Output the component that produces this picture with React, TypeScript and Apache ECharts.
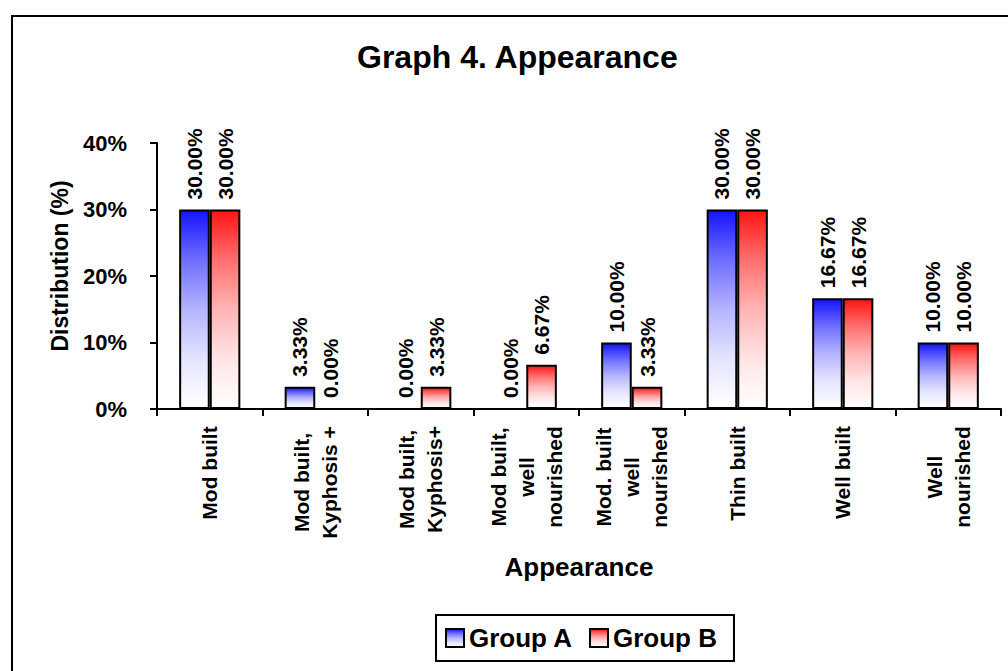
import React, { useEffect, useRef } from "react";
import * as echarts from "echarts";

// Appearance categories (line breaks as printed under the axis)
const categories = [
  "Mod built",
  "Mod built,\nKyphosis +",
  "Mod built,\nKyphosis+",
  "Mod built,\nwell\nnourished",
  "Mod. built\nwell\nnourished",
  "Thin built",
  "Well built",
  "Well\nnourished",
];

// Distribution in percent
const groupA = [30.0, 3.33, 0.0, 0.0, 10.0, 30.0, 16.67, 10.0];
const groupB = [30.0, 0.0, 3.33, 6.67, 3.33, 30.0, 16.67, 10.0];

const seriesNames = ["Group A", "Group B"];
const yTicks = [0, 10, 20, 30, 40];

const FONT = "'Liberation Sans', Arial, Helvetica, sans-serif";
const CAT_FONT_SIZE = 21;

// Gradient that runs from a strong colour at the bar top down to white
const fade = (stops: string[]) =>
  new echarts.graphic.LinearGradient(
    0,
    0,
    0,
    1,
    stops.map((color, i) => ({ offset: i / (stops.length - 1), color }))
  );

const blueStops = ["#1414ff", "#6e6eff", "#b4b4ff", "#e4e4ff", "#ffffff"];
const redStops = ["#ff1414", "#ff6e6e", "#ffb4b4", "#ffe4e4", "#ffffff"];

// Width of the longest line of each category label, so every line can be
// centred inside its label block
function lineWidths(): number[] {
  const ctx = document.createElement("canvas").getContext("2d");
  if (!ctx) return categories.map(() => 110);
  ctx.font = `bold ${CAT_FONT_SIZE}px ${FONT}`;
  return categories.map((c) =>
    Math.ceil(Math.max(...c.split("\n").map((l) => ctx.measureText(l).width)))
  );
}

export default function App() {
  const ref = useRef<HTMLDivElement>(null);

  useEffect(() => {
    if (!ref.current) return;
    const chart = echarts.init(ref.current, undefined, { renderer: "svg" });

    const widths = lineWidths();
    const rich: Record<string, any> = {};
    widths.forEach((w, i) => {
      rich[`c${i}`] = {
        width: w,
        align: "center",
        fontFamily: FONT,
        fontWeight: "bold",
        fontSize: CAT_FONT_SIZE,
        lineHeight: 28,
        color: "#000",
      };
    });

    const valueLabel = {
      show: true,
      position: "top" as const,
      rotate: 90,
      align: "left" as const,
      verticalAlign: "middle" as const,
      distance: 10,
      fontFamily: FONT,
      fontWeight: "bold" as const,
      fontSize: 21,
      color: "#000",
      formatter: (p: any) => `${Number(p.value).toFixed(2)}%`,
    };

    chart.setOption({
      animation: false,
      backgroundColor: "#ffffff",
      textStyle: { fontFamily: FONT },
      title: {
        text: "Graph 4. Appearance",
        left: 357,
        top: 41,
        padding: 0,
        textStyle: { fontFamily: FONT, fontWeight: "bold", fontSize: 32, color: "#000" },
      },
      graphic: [
        {
          type: "rect",
          shape: { x: 12, y: 16, width: 1200, height: 900 },
          style: { fill: "none", stroke: "#000", lineWidth: 2 },
          silent: true,
          z: 100,
        },
      ],
      legend: {
        data: seriesNames,
        left: 436,
        top: 615,
        orient: "horizontal",
        padding: [10, 17, 10, 9],
        itemGap: 16,
        itemWidth: 18,
        itemHeight: 18,
        icon: "rect",
        borderColor: "#000",
        borderWidth: 2,
        backgroundColor: "#fff",
        itemStyle: { borderColor: "#000", borderWidth: 2 },
        textStyle: { fontFamily: FONT, fontWeight: "bold", fontSize: 26, color: "#000" },
      },
      grid: { left: 157, right: 7, top: 143, bottom: 262, containLabel: false },
      xAxis: {
        type: "category",
        data: categories,
        name: "Appearance",
        nameLocation: "middle",
        nameGap: 145,
        nameTextStyle: { fontFamily: FONT, fontWeight: "bold", fontSize: 26, color: "#000" },
        axisLine: { lineStyle: { color: "#000", width: 2 } },
        axisTick: { show: true, length: 7, lineStyle: { color: "#000", width: 2 } },
        axisLabel: {
          interval: 0,
          rotate: 90,
          margin: 17,
          color: "#000",
          fontFamily: FONT,
          fontWeight: "bold",
          fontSize: CAT_FONT_SIZE,
          lineHeight: 29,
          formatter: (v: string, i: number) =>
            v
              .split("\n")
              .map((l) => `{c${i}|${l}}`)
              .join("\n"),
          rich,
        },
      },
      yAxis: {
        type: "value",
        min: 0,
        max: 40,
        interval: 10,
        name: "Distribution (%)",
        nameLocation: "middle",
        nameGap: 86,
        nameRotate: 90,
        nameTextStyle: {
          fontFamily: FONT,
          fontWeight: "bold",
          fontSize: 23,
          color: "#000",
          padding: [0, 0, 0, 20],
        },
        axisLine: { show: true, lineStyle: { color: "#000", width: 2 } },
        axisTick: { show: true, length: 7, lineStyle: { color: "#000", width: 2 } },
        splitLine: { show: false },
        axisLabel: {
          margin: 30,
          color: "#000",
          fontFamily: FONT,
          fontWeight: "bold",
          fontSize: 22,
          formatter: (v: number) => (yTicks.includes(v) ? `${v}%` : ""),
        },
      },
      series: [
        {
          name: seriesNames[0],
          type: "bar",
          data: groupA,
          barGap: "0%",
          barCategoryGap: "42%",
          itemStyle: { color: fade(blueStops), borderColor: "#000", borderWidth: 2 },
          label: valueLabel,
        },
        {
          name: seriesNames[1],
          type: "bar",
          data: groupB,
          barGap: "0%",
          barCategoryGap: "42%",
          itemStyle: { color: fade(redStops), borderColor: "#000", borderWidth: 2 },
          label: valueLabel,
        },
      ],
    });

    return () => chart.dispose();
  }, []);

  return (
    <div
      ref={ref}
      style={{ position: "absolute", left: 0, top: 0, width: 1008, height: 671 }}
    />
  );
}
